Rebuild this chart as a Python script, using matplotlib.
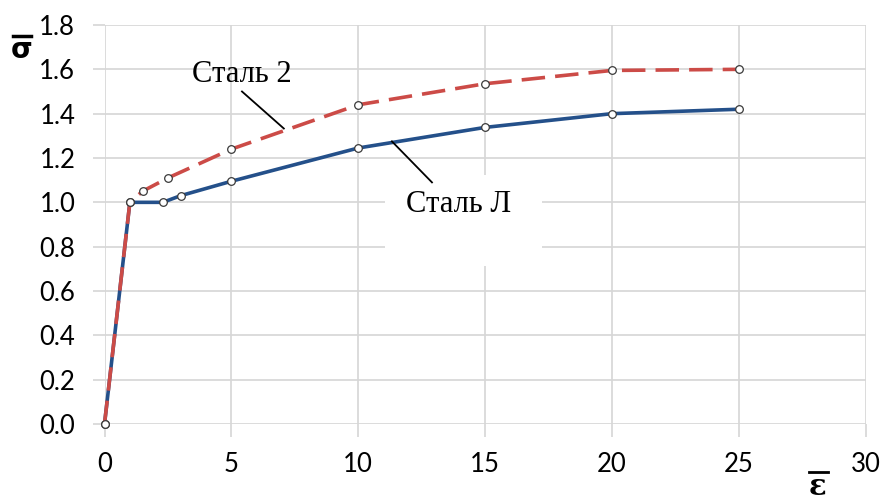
import matplotlib
matplotlib.use("Agg")
import matplotlib.pyplot as plt
from matplotlib.patches import Rectangle
from matplotlib.lines import Line2D

# Data
steel_L_x = [0, 1, 2.3, 3, 5, 10, 15, 20, 25]
steel_L_y = [0, 1.0, 1.0, 1.03, 1.095, 1.245, 1.338, 1.40, 1.42]
steel_2_x = [0, 1, 1.5, 2.5, 5, 10, 15, 20, 25]
steel_2_y = [0, 1.0, 1.05, 1.11, 1.24, 1.44, 1.535, 1.595, 1.60]
x_ticks = [0, 5, 10, 15, 20, 25, 30]
y_ticks = [0.0, 0.2, 0.4, 0.6, 0.8, 1.0, 1.2, 1.4, 1.6, 1.8]
label_L = "Сталь Л"
label_2 = "Сталь 2"

W, H = 885, 503
fig = plt.figure(figsize=(W / 100, H / 100), dpi=100)
ax = fig.add_axes([104.5 / W, (H - 424) / H, (865.5 - 104.5) / W, (424 - 25) / H])

ax.set_xlim(0, 30)
ax.set_ylim(0, 1.8)
ax.set_xticks(x_ticks)
ax.set_yticks(y_ticks)
ax.set_xticklabels([str(t) for t in x_ticks])
ax.set_yticklabels([f"{t:.1f}" for t in y_ticks])
for s in ax.spines.values():
    s.set_visible(False)
ax.grid(True, color="#d6d6d6", lw=1.2)
ax.set_axisbelow(True)
ax.tick_params(axis="both", color="#d6d6d6", width=1.2, length=9,
               labelsize=18.5, labelcolor="black")
ax.tick_params(axis="x", pad=11)
ax.tick_params(axis="y", pad=12)
for lab in ax.get_xticklabels() + ax.get_yticklabels():
    lab.set_fontfamily("Lato")

blue = "#24508a"
red = "#cc4b47"
ax.plot(steel_L_x, steel_L_y, color=blue, lw=2.6, zorder=3,
        marker="o", markersize=5.5, markerfacecolor="white",
        markeredgecolor="#3a3a3a", markeredgewidth=0.9, clip_on=False)
ax.plot(steel_2_x, steel_2_y, color=red, lw=2.6, zorder=4,
        dashes=(6.5, 2.8),
        marker="o", markersize=5.5, markerfacecolor="white",
        markeredgecolor="#3a3a3a", markeredgewidth=0.9, clip_on=False)

# White box behind "Сталь Л"
ax.add_patch(Rectangle((11.06, 0.712), 17.24 - 11.06, 1.122 - 0.712,
                       facecolor="white", edgecolor="none", zorder=2.5))

ax.text(5.42, 1.577, label_2, fontsize=22, family="Liberation Serif",
        ha="center", va="center", zorder=6)
ax.text(13.97, 0.99, label_L, fontsize=22, family="Liberation Serif",
        ha="center", va="center", zorder=6)
ax.plot([5.42, 7.07], [1.50, 1.333], color="black", lw=1.3, zorder=6)
ax.plot([11.33, 12.91], [1.275, 1.09], color="black", lw=1.3, zorder=6)

# Axis symbols
fig.text(22 / W, 1 - 50 / H, "σ", fontsize=20, fontweight="bold",
         family="DejaVu Sans", ha="center", va="center")
fig.add_artist(Line2D([13 / W, 31 / W], [1 - 36 / H, 1 - 36 / H],
                      color="black", lw=2.5))
fig.text(818 / W, 2 / H, "ε", fontsize=21, fontweight="bold",
         family="DejaVu Serif", ha="center", va="bottom")
fig.add_artist(Line2D([809 / W, 828 / W], [1 - 472 / H, 1 - 472 / H],
                      color="black", lw=2.0))

fig.savefig("out.png", dpi=100)
